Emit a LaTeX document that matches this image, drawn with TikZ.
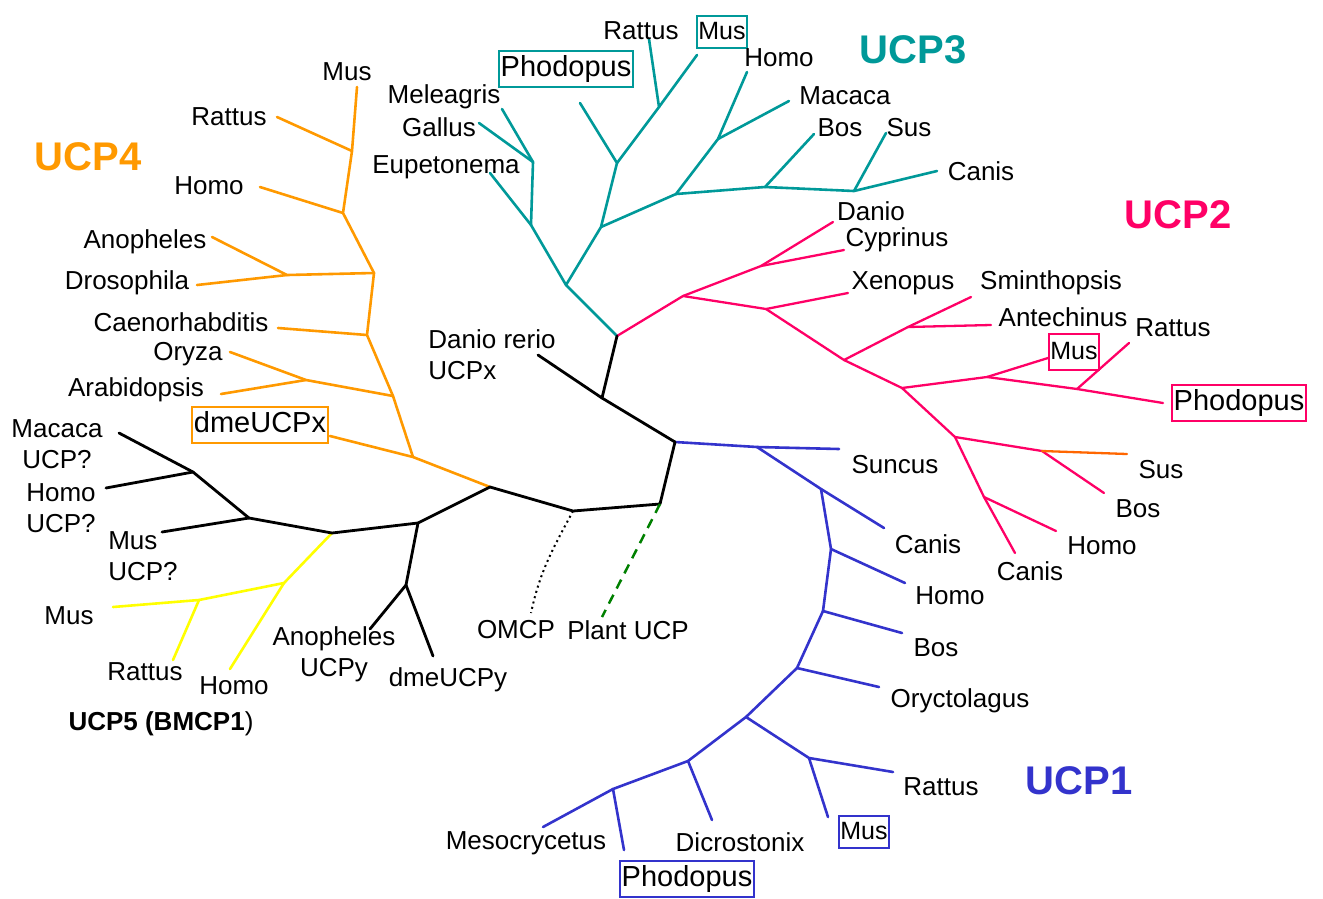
\documentclass[tikz,border=0pt]{standalone}
\usepackage{fontspec}
\setmainfont{Liberation Sans}
\definecolor{corange}{HTML}{FF9900}
\definecolor{cteal}{HTML}{009999}
\definecolor{cpink}{HTML}{FF0066}
\definecolor{cblue}{HTML}{3333CC}
\definecolor{cyellow}{HTML}{FFFF00}
\definecolor{cgreen}{HTML}{008000}
\definecolor{csus}{HTML}{FF6600}
\begin{document}
\begin{tikzpicture}[x=1pt,y=-1pt,
  lbl/.style={font=\fontsize{26}{31}\selectfont, inner sep=0pt, anchor=center},
  big/.style={font=\fontsize{40}{44}\selectfont\bfseries, inner sep=0pt, anchor=center},
  boxA/.style={font=\fontsize{29}{32}\selectfont, draw=#1, line width=2pt, inner xsep=2pt, inner ysep=3.5pt, text height=22pt, text depth=6.5pt, anchor=center},
  boxB/.style={font=\fontsize{25}{30}\selectfont, draw=#1, line width=2pt, inner xsep=1.5pt, inner ysep=3.5pt, text height=19.5pt, text depth=5pt, anchor=center},
  blk/.style={draw=black, line width=2.8pt, line cap=round, line join=round},
  org/.style={draw=corange, line width=2.6pt, line cap=round, line join=round},
  tea/.style={draw=cteal, line width=2.6pt, line cap=round, line join=round},
  pnk/.style={draw=cpink, line width=2.3pt, line cap=round, line join=round},
  blu/.style={draw=cblue, line width=2.6pt, line cap=round, line join=round},
  yel/.style={draw=cyellow, line width=2.6pt, line cap=round, line join=round}]
\path[use as bounding box] (0,0) rectangle (1323,898);

% ---------- coordinates ----------
% black core
\coordinate (C0) at (675,442);
\coordinate (C1) at (602,398);
\coordinate (CT) at (617,336);
\coordinate (DRl) at (538,355);
\coordinate (C2) at (660,504);
\coordinate (C3) at (573,511);
\coordinate (C4) at (490,487);
\coordinate (C5) at (418,523);
\coordinate (C6) at (406,585);
\coordinate (AYl) at (370,629);
\coordinate (DYl) at (433,656);
\coordinate (C7) at (332,533);
\coordinate (C8) at (249,518);
\coordinate (MQl) at (162,532);
\coordinate (C9) at (193,472);
\coordinate (MaQl) at (119,433);
\coordinate (HQl) at (106,488);
\coordinate (OMl) at (531,613);
\coordinate (PUl) at (602,617);
% blue
\coordinate (B1) at (757,447);
\coordinate (B1l) at (839,449);
\coordinate (B2) at (821,489);
\coordinate (B2l) at (884,528);
\coordinate (B3) at (831,549);
\coordinate (B3l) at (905,583);
\coordinate (B4) at (823,611);
\coordinate (B4l) at (902,633);
\coordinate (B5) at (797,668);
\coordinate (B5l) at (879,687);
\coordinate (B6) at (746,717);
\coordinate (B7) at (809,758);
\coordinate (B7r) at (893,772);
\coordinate (B7m) at (828,817);
\coordinate (B8) at (688,761);
\coordinate (B8l) at (712,820);
\coordinate (B9) at (613,789);
\coordinate (B9p) at (624,850);
\coordinate (B9m) at (543,827);
% teal
\coordinate (T1) at (566,285);
\coordinate (T2) at (531,225);
\coordinate (T2l) at (490,173);
\coordinate (T3) at (533,162);
\coordinate (T3g) at (479,123);
\coordinate (T3m) at (502,109);
\coordinate (T4) at (601,227);
\coordinate (T5) at (617,163);
\coordinate (T5l) at (580,103);
\coordinate (T7) at (659,107);
\coordinate (T7r) at (649,39);
\coordinate (T7m) at (697,55);
\coordinate (T6) at (676,194);
\coordinate (T8) at (718,139);
\coordinate (T8h) at (747,72);
\coordinate (T8m) at (789,101);
\coordinate (T9) at (765,187);
\coordinate (T9b) at (814,134);
\coordinate (T10) at (854,191);
\coordinate (T10s) at (886,133);
\coordinate (T10c) at (937,171);
% pink
\coordinate (P1) at (683,296);
\coordinate (P2) at (761,266);
\coordinate (P2d) at (833,222);
\coordinate (P2c) at (844,250);
\coordinate (P3) at (766,309);
\coordinate (P3x) at (848,293);
\coordinate (P4) at (844,360);
\coordinate (P4a) at (908,327);
\coordinate (P4s) at (971,297);
\coordinate (P4t) at (991,325);
\coordinate (P5) at (902,388);
\coordinate (P6) at (987,377);
\coordinate (P6m) at (1048,358);
\coordinate (P6a) at (1077,389);
\coordinate (P6p) at (1163,403);
\coordinate (P6r) at (1129,343);
\coordinate (P7) at (955,437);
\coordinate (P8) at (1042,451);
\coordinate (P8s) at (1127,454);
\coordinate (P8b) at (1104,493);
\coordinate (P9) at (984,497);
\coordinate (P9h) at (1056,531);
\coordinate (P9c) at (1015,553);
% orange
\coordinate (A8) at (413,457);
\coordinate (A8l) at (330,436);
\coordinate (A6) at (393,396);
\coordinate (A7) at (306,380);
\coordinate (A7o) at (230,352);
\coordinate (A7a) at (221,394);
\coordinate (A5) at (367,335);
\coordinate (A5l) at (278,328);
\coordinate (A3) at (374,273);
\coordinate (A4) at (287,275);
\coordinate (A4a) at (212,237);
\coordinate (A4d) at (197,285);
\coordinate (A2) at (343,213);
\coordinate (A2l) at (260,187);
\coordinate (A1) at (352,151);
\coordinate (A1r) at (277,117);
\coordinate (A1m) at (357,87);
% yellow
\coordinate (Y1) at (284,583);
\coordinate (Y2) at (199,600);
\coordinate (Y2m) at (113,607);
\coordinate (Y2r) at (173,660);
\coordinate (Y1h) at (230,669);

% ---------- branches ----------
% orange (UCP4)
\draw[org] (C4) -- (A8) -- (A8l);
\draw[org] (A8) -- (A6) -- (A5) -- (A3) -- (A2) -- (A1) -- (A1m);
\draw[org] (A6) -- (A7) -- (A7o);
\draw[org] (A7) -- (A7a);
\draw[org] (A5) -- (A5l);
\draw[org] (A3) -- (A4) -- (A4a);
\draw[org] (A4) -- (A4d);
\draw[org] (A2) -- (A2l);
\draw[org] (A1) -- (A1r);
% yellow (UCP5)
\draw[yel] (C7) -- (Y1) -- (Y2) -- (Y2m);
\draw[yel] (Y2) -- (Y2r);
\draw[yel] (Y1) -- (Y1h);
% teal (UCP3)
\draw[tea] (CT) -- (T1) -- (T2) -- (T2l);
\draw[tea] (T2) -- (T3) -- (T3g);
\draw[tea] (T3) -- (T3m);
\draw[tea] (T1) -- (T4) -- (T5) -- (T5l);
\draw[tea] (T5) -- (T7) -- (T7r);
\draw[tea] (T7) -- (T7m);
\draw[tea] (T4) -- (T6) -- (T8) -- (T8h);
\draw[tea] (T8) -- (T8m);
\draw[tea] (T6) -- (T9) -- (T9b);
\draw[tea] (T9) -- (T10) -- (T10s);
\draw[tea] (T10) -- (T10c);
% pink (UCP2)
\draw[pnk] (CT) -- (P1) -- (P2) -- (P2d);
\draw[pnk] (P2) -- (P2c);
\draw[pnk] (P1) -- (P3) -- (P3x);
\draw[pnk] (P3) -- (P4) -- (P4a) -- (P4s);
\draw[pnk] (P4a) -- (P4t);
\draw[pnk] (P4) -- (P5) -- (P6) -- (P6m);
\draw[pnk] (P6) -- (P6a) -- (P6p);
\draw[pnk] (P6a) -- (P6r);
\draw[pnk] (P5) -- (P7) -- (P8) -- (P8b);
\draw[draw=csus, line width=2.3pt, line cap=round] (P8) -- (P8s);
\draw[pnk] (P7) -- (P9) -- (P9h);
\draw[pnk] (P9) -- (P9c);
% blue (UCP1)
\draw[blu] (C0) -- (B1) -- (B1l);
\draw[blu] (B1) -- (B2) -- (B2l);
\draw[blu] (B2) -- (B3) -- (B3l);
\draw[blu] (B3) -- (B4) -- (B4l);
\draw[blu] (B4) -- (B5) -- (B5l);
\draw[blu] (B5) -- (B6) -- (B7) -- (B7r);
\draw[blu] (B7) -- (B7m);
\draw[blu] (B6) -- (B8) -- (B8l);
\draw[blu] (B8) -- (B9) -- (B9p);
\draw[blu] (B9) -- (B9m);
% black core
\draw[blk] (CT) -- (C1) -- (C0) -- (C2) -- (C3) -- (C4) -- (C5) -- (C7) -- (C8) -- (C9) -- (MaQl);
\draw[blk] (C1) -- (DRl);
\draw[blk] (C5) -- (C6) -- (AYl);
\draw[blk] (C6) -- (DYl);
\draw[blk] (C8) -- (MQl);
\draw[blk] (C9) -- (HQl);
\draw[black, line width=2pt, dash pattern=on 2pt off 3.5pt] (C3) to[out=-118,in=78] (OMl);
\draw[cgreen, line width=2.5pt, dash pattern=on 10pt off 7pt] (C2) -- (PUl);

% ---------- clade titles ----------
\node[big, text=corange] (tU4) at (88,157) {UCP4};
\node[big, text=cteal] (tU3) at (913,50) {UCP3};
\node[big, text=cpink] (tU2) at (1178,215) {UCP2};
\node[big, text=cblue] (tU1) at (1079,781) {UCP1};
\node[lbl] (tU5) at (161,724) {\bfseries UCP5 (BMCP1\mdseries)};

% ---------- labels: UCP4 ----------
\node[lbl] (o1) at (347,72) {Mus};
\node[lbl] (o2) at (229,117) {Rattus};
\node[lbl] (o3) at (209,186) {Homo};
\node[lbl] (o4) at (145,242) {Anopheles};
\node[lbl] (o5) at (127,283) {Drosophila};
\node[lbl] (o6) at (181,322) {Caenorhabditis};
\node[lbl] (o7) at (188,354) {Oryza};
\node[lbl] (o8) at (136,390) {Arabidopsis};
\node[boxA=corange] (o9) at (260,425) {dmeUCPx};

% ---------- labels: black / yellow ----------
\node[lbl, align=center] (k1) at (57,444) {Macaca\\UCP?};
\node[lbl, align=left] (k2) at (61,508) {Homo\\UCP?};
\node[lbl, align=left] (k3) at (143,556) {Mus\\UCP?};
\node[lbl, align=left] (k4) at (492,355) {Danio rerio\\UCPx};
\node[lbl, align=center] (k5) at (334,654) {Anopheles\\UCPy};
\node[lbl] (k6) at (448,680) {dmeUCPy};
\node[lbl] (k7) at (516,630) {OMCP};
\node[lbl] (k8) at (628,630) {Plant UCP};
\node[lbl] (y1) at (69,616) {Mus};
\node[lbl] (y2) at (145,672) {Rattus};
\node[lbl] (y3) at (234,686) {Homo};

% ---------- labels: UCP3 ----------
\node[lbl] (t1) at (641,31) {Rattus};
\node[boxB=cteal] (t2) at (722,32) {Mus};
\node[lbl] (t3) at (779,58) {Homo};
\node[boxA=cteal] (t4) at (566,69) {Phodopus};
\node[lbl] (t5) at (444,97) {Meleagris};
\node[lbl] (t6) at (439,127) {Gallus};
\node[lbl] (t7) at (446,167) {Eupetonema};
\node[lbl] (t8) at (845,96) {Macaca};
\node[lbl] (t9) at (840,128) {Bos};
\node[lbl] (t10) at (909,128) {Sus};
\node[lbl] (t11) at (981,171) {Canis};

% ---------- labels: UCP2 ----------
\node[lbl] (p1) at (871,211) {Danio};
\node[lbl] (p2) at (897,240) {Cyprinus};
\node[lbl] (p3) at (903,283) {Xenopus};
\node[lbl] (p4) at (1051,283) {Sminthopsis};
\node[lbl] (p5) at (1063,317) {Antechinus};
\node[lbl] (p6) at (1173,328) {Rattus};
\node[boxB=cpink, minimum height=36pt] (p7) at (1074,352) {Mus};
\node[boxA=cpink] (p8) at (1239,403) {Phodopus};
\node[lbl] (p9) at (1161,470) {Sus};
\node[lbl] (p10) at (1138,509) {Bos};
\node[lbl] (p11) at (1102,546) {Homo};
\node[lbl] (p12) at (1030,571) {Canis};

% ---------- labels: UCP1 ----------
\node[lbl] (b1) at (895,465) {Suncus};
\node[lbl] (b2) at (928,544) {Canis};
\node[lbl] (b3) at (950,596) {Homo};
\node[lbl] (b4) at (936,648) {Bos};
\node[lbl] (b5) at (960,701) {Oryctolagus};
\node[lbl] (b6) at (941,787) {Rattus};
\node[boxB=cblue] (b7) at (864,832) {Mus};
\node[lbl] (b8) at (740,842) {Dicrostonix};
\node[lbl] (b9) at (526,843) {Mesocrycetus};
\node[boxA=cblue] (b10) at (687,879) {Phodopus};
\end{tikzpicture}
\end{document}
